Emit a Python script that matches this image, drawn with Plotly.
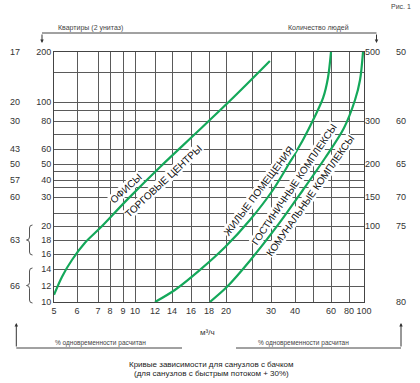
import numpy as np
import plotly.graph_objects as go

# ---------------- data ----------------
flow_ticks = [5, 6, 7, 8, 9, 10, 12, 14, 16, 18, 20, 30, 40, 60, 80, 100]
flow_minor = [25, 50]
flats_ticks = [200, 100, 80, 60, 50, 40, 30, 20, 18, 16, 14, 12, 10]
flats_minor = [150, 90, 70, 45, 35, 25]
people_ticks = [500, 300, 200, 150, 100]
people_on_flats = [200, 80, 50, 30, 20]
pct_left = [17, 20, 30, 43, 50, 57, 60]
pct_left_at = [200, 100, 80, 60, 50, 40, 30]
pct_left_braced = [63, 66]
pct_left_brace_span = [(20, 16), (14, 10)]
pct_left_brace_mid = [18, 12]
pct_right = [50, 60, 65, 70, 75, 80]
pct_right_at = [200, 80, 50, 30, 20, 10]

offices_flow = [5.0, 5.35, 5.78, 6.38, 7.17, 9.33, 12.6, 16.8, 21.7, 29.7]
offices_q = [10.9, 13.1, 15.2, 17.6, 19.7, 29.1, 47.9, 72.3, 110, 177.5]
res_flow = [12, 14.3, 17, 19.9, 24.6, 30.8, 37.9, 44.4, 50.6, 55.6, 58.3, 60]
res_q = [10, 11.5, 13.9, 17, 22.3, 33.5, 51.3, 66, 82.7, 106.7, 140, 200]
hotel_flow = [18.1, 20.2, 24.6, 32.9, 44.4, 56.7, 74.4, 88, 94.7, 98.7]
hotel_q = [10, 11.9, 15.1, 20.4, 33.5, 54, 74.6, 103.3, 136.7, 200]

# ---------------- chart scales (non-uniform, as printed) ----------------
X_SCALE_VALS = [5, 6, 7, 8, 9, 10, 12, 14, 16, 18, 20, 25, 30, 40, 50, 60, 80, 100]
X_SCALE_POS = [0, 23, 44, 56, 69, 81, 101, 118, 137, 155, 172, 198, 217, 241, 259, 277, 295, 310]
Y_SCALE_VALS = [10, 12, 14, 16, 18, 20, 25, 30, 35, 40, 45, 50, 60, 70, 80, 90, 100, 150, 200]
Y_SCALE_POS = [0, 16, 33, 48, 62, 76, 89, 105, 115, 122, 131, 138, 153, 168, 181, 192, 200, 230, 250]


def sx(v):
    return list(np.interp(np.asarray(v, float), X_SCALE_VALS, X_SCALE_POS))


def sy(v):
    return list(np.interp(np.asarray(v, float), Y_SCALE_VALS, Y_SCALE_POS))


# layout geometry
W, H = 420, 383
ML, MR, MT, MB = 54, 56, 52, 81
PW, PH = W - ML - MR, H - MT - MB


def px(p):
    return (p - ML) / PW


def py(p):
    return (H - MB - p) / PH


FONT = "Liberation Sans, Arial, sans-serif"
GREEN = "#14a85a"
GRID = "#5a5a5a"

fig = go.Figure()
for fl, q in [(offices_flow, offices_q), (res_flow, res_q), (hotel_flow, hotel_q)]:
    fig.add_trace(go.Scatter(x=sx(fl), y=sy(q), mode="lines",
                             line=dict(color=GREEN, width=2.2, shape="spline", smoothing=0.9),
                             hoverinfo="skip", showlegend=False))
# invisible trace for right axis
fig.add_trace(go.Scatter(x=[0], y=[0], yaxis="y2", mode="markers",
                         marker=dict(opacity=0), showlegend=False, hoverinfo="skip"))

xt = sx(flow_ticks) + sx(flow_minor)
xtt = [str(v) for v in flow_ticks] + [""] * len(flow_minor)
yt = sy(flats_ticks) + sy(flats_minor)
ytt = [str(v) for v in flats_ticks] + [""] * len(flats_minor)

axis_common = dict(showgrid=True, gridcolor=GRID, gridwidth=1, zeroline=False,
                   showline=True, linecolor="#444", linewidth=1, mirror=True,
                   ticks="", tickfont=dict(size=9, color="#333", family=FONT), fixedrange=True)

fig.update_layout(
    width=W, height=H, margin=dict(l=ML, r=MR, t=MT, b=MB, pad=0),
    paper_bgcolor="white", plot_bgcolor="white", showlegend=False,
    font=dict(family=FONT, color="#333"),
    xaxis=dict(range=[0, PW], tickvals=xt, ticktext=xtt, **axis_common),
    yaxis=dict(range=[0, PH], tickvals=yt, ticktext=ytt, **axis_common),
    yaxis2=dict(range=[0, PH], overlaying="y", side="right", showgrid=False,
                zeroline=False, showline=False, ticks="",
                tickvals=sy(people_on_flats), ticktext=[str(v) for v in people_ticks],
                tickfont=dict(size=9, color="#333", family=FONT), fixedrange=True),
)

ann = []
shapes = []


def text(x, y, t, size, color="#333", xanchor="center", **kw):
    d = dict(x=x, y=y, xref="paper", yref="paper", text=t, showarrow=False,
             xanchor=xanchor, yanchor="middle", font=dict(size=size, color=color, family=FONT))
    d.update(kw)
    ann.append(d)


# percent columns
for v, at in zip(pct_left, pct_left_at):
    text(px(14.7), sy([at])[0] / PH, str(v), 9)
for v, mid, (top, bot) in zip(pct_left_braced, pct_left_brace_mid, pct_left_brace_span):
    text(px(14.7), sy([mid])[0] / PH, str(v), 9)
    yt_, yb_ = sy([top])[0] + 1, sy([bot])[0] - 1
    ym = (yt_ + yb_) / 2
    xr, xm, xl = px(32.5), px(29.5), px(26.5)
    d = 3.0

    def Y(v):
        return v / PH
    path = (f"M {xr},{Y(yt_)} Q {xm},{Y(yt_)} {xm},{Y(yt_ - d)} L {xm},{Y(ym + d)} "
            f"Q {xm},{Y(ym)} {xl},{Y(ym)} Q {xm},{Y(ym)} {xm},{Y(ym - d)} "
            f"L {xm},{Y(yb_ + d)} Q {xm},{Y(yb_)} {xr},{Y(yb_)}")
    shapes.append(dict(type="path", xref="paper", yref="paper", path=path,
                       line=dict(color="#555", width=1)))
for v, at in zip(pct_right, pct_right_at):
    text(px(401), sy([at])[0] / PH, str(v), 9)

# curve labels
labels = [
    ("ОФИСЫ", 126, 188.9, -42),
    ("ТОРГОВЫЕ ЦЕНТРЫ", 163, 181.2, -43),
    ("ЖИЛЫЕ ПОМЕЩЕНИЯ", 258, 191, -53),
    ("ГОСТИНИЧНЫЕ КОМПЛЕКСЫ", 293.8, 184, -56),
    ("КОМУНАЛЬНЫЕ КОМПЛЕКСЫ", 310.5, 195.7, -55),
]
for t, cx, cy, a in labels:
    text(px(cx), py(cy), t, 10, color="#111", textangle=a, bgcolor="white", borderpad=0)

# header texts
text(px(56), py(28.5), "Квартиры (2 унитаз)", 7, color="#444", xanchor="left")
text(px(318), py(28.3), "Количество людей", 7, color="#444")
text(px(401), py(6), "Рис. 1", 7, color="#444")
shapes.append(dict(type="line", xref="paper", yref="paper", x0=px(42), x1=px(376.5),
                   y0=py(33), y1=py(33), line=dict(color="#444", width=1)))
for xx in (42, 376.5):
    ann.append(dict(x=px(xx), y=py(43), xref="paper", yref="paper", text="", showarrow=True,
                    ax=0, ay=-10, arrowhead=2, arrowsize=0.7, arrowwidth=1, arrowcolor="#333"))

# bottom texts
text(px(207), py(332), "м³/ч", 8)
for x0, x1 in ((16.3, 182), (236, 401)):
    shapes.append(dict(type="line", xref="paper", yref="paper", x0=px(x0), x1=px(x1),
                       y0=py(348), y1=py(348), line=dict(color="#444", width=1)))
for xx in (16.3, 401):
    ann.append(dict(x=px(xx), y=py(323), xref="paper", yref="paper", text="", showarrow=True,
                    ax=0, ay=25, arrowhead=2, arrowsize=0.7, arrowwidth=1, arrowcolor="#333"))
for xx in (100, 303):
    text(px(xx), py(343), "% одновременности расчитан", 6.5, color="#444")
text(px(211), py(364), "Кривые зависимости для санузлов с бачком", 8, color="#222")
text(px(211), py(373), "(для санузлов с быстрым потоком + 30%)", 8, color="#222")

fig.update_layout(annotations=ann, shapes=shapes)
fig.write_html("out.html", config={"displayModeBar": False},
               post_script="document.body.style.margin='0px';")
